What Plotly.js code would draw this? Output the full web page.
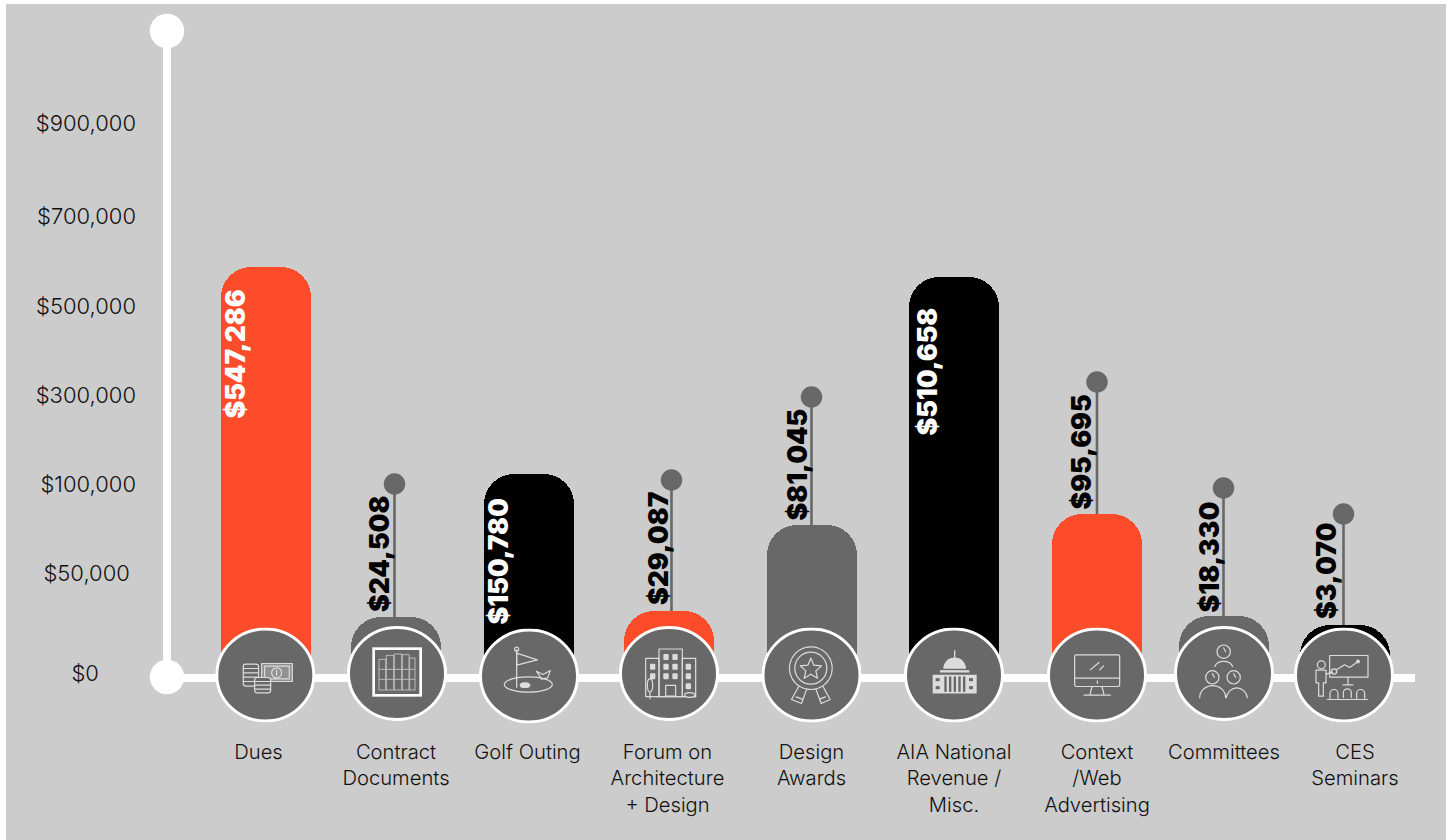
<!DOCTYPE html>
<html>
<head>
<meta charset="utf-8">
<script src="https://cdn.plot.ly/plotly-3.0.1.min.js"></script>
<style>
html,body{margin:0;padding:0;background:#fff;}
#chart{position:absolute;left:6px;top:4px;width:1440px;height:836px;}
</style>
</head>
<body>
<div id="chart"></div>
<script>
// ---------- chart content ----------
const categories = ["Dues","Contract<br>Documents","Golf Outing","Forum on<br>Architecture<br>+ Design","Design<br>Awards","AIA National<br>Revenue /<br>Misc.","Context<br>/Web<br>Advertising","Committees","CES<br>Seminars"];
const revenue = [547286,24508,150780,29087,81045,510658,95695,18330,3070];
// Bars are illustrative in the source: heights are read from the picture, in axis units.
const barHeights = [411,61,204,67,153,401,164,62,53];
const stemTops = [null,194,null,198,281,null,296,190,164];
const barGroup = ["orange","grey","black","orange","grey","black","orange","grey","black"];
const yTickLabels = ["$0","$50,000","$100,000","$300,000","$500,000","$700,000","$900,000"];

// ---------- placement and style (separate from the data) ----------
const yTickSlots = [4.5,104.5,193.5,282.5,371.5,461.5,554.5];
const yTickPad = [6,1,0,0,0,0,0];
const barCenters = [265.5,396,529,669,812,953.5,1097,1224,1345];
const stemCenters = [null,394.5,null,671.5,811.5,null,1097,1223.5,1343.5];
const discCenters = [265.3,397,529,669,811.5,954,1097,1224,1344];
const discLift = [3,4.5,2,4.5,3,3,3,4.5,3];
const labelCenters = [258.5,396,527.5,667.5,811.5,954,1097,1224,1355];
const valueLabelX = [234.5,378.5,497.5,657.5,796.5,926.5,1080.5,1208.5,1325.5];
const valueLabelMid = [354,554.5,562,548.5,465,372,452,557,571.5];
const palette = {orange:"#FC4C2A",grey:"#686868",black:"#000000"};
const valueInk = ["#fff","#000","#fff","#000","#000","#fff","#000","#000","#000"];
const INK = "#dcdcdc";
const BASE_PX = 678;

const s = 'fill="none" stroke="'+INK+'" stroke-width="3.6" stroke-linejoin="round" stroke-linecap="round"';
const icons = [
 // Dues
 `<g ${s}><rect x="84" y="110" width="46" height="66" rx="8"/><path d="M84 123h46M84 136h46M84 149h46M84 162h46"/><rect x="139" y="108" width="92" height="54" fill="${INK}" fill-opacity=".35"/><rect x="148" y="116" width="74" height="38"/><circle cx="184" cy="136" r="15"/><path d="M184 128v16"/><rect x="118" y="150" width="48" height="46" rx="8" fill="#686868"/><path d="M118 162h48M118 173h48M118 185h48"/></g>`,
 // Contract documents
 `<g fill="none"><rect x="80" y="68" width="141" height="140" stroke="#fff" stroke-width="8"/><g stroke="${INK}" stroke-width="3" opacity=".7"><rect x="96" y="100" width="20" height="92"/><rect x="118" y="88" width="22" height="104"/><rect x="142" y="84" width="22" height="108"/><rect x="166" y="86" width="20" height="106"/><rect x="188" y="96" width="16" height="96"/><path d="M96 130h108M96 160h108"/></g></g>`,
 // Golf
 `<g ${s}><path d="M113 64v112"/><circle cx="113" cy="62" r="6"/><path d="M113 74l62 20-62 16z"/><ellipse cx="148" cy="168" rx="72" ry="23"/><ellipse cx="138" cy="170" rx="14" ry="7" fill="${INK}"/><path d="M172 128l20 10 22-12-8 22-18 4z"/></g>`,
 // Forum
 `<g ${s}><rect x="120" y="69" width="70" height="143"/><rect x="80" y="97" width="40" height="115"/><rect x="190" y="97" width="40" height="115"/><path d="M112 212h118"/><ellipse cx="93" cy="178" rx="8" ry="20"/><path d="M93 198v20"/><rect x="140" y="178" width="30" height="32"/><ellipse cx="212" cy="207" rx="15" ry="7" fill="#686868"/><g fill="${INK}" stroke="none"><rect x="133" y="84" width="16" height="18" rx="3"/><rect x="160" y="84" width="16" height="18" rx="3"/><rect x="133" y="113" width="16" height="18" rx="3"/><rect x="160" y="113" width="16" height="18" rx="3"/><rect x="133" y="142" width="16" height="18" rx="3"/><rect x="160" y="142" width="16" height="18" rx="3"/><rect x="93" y="113" width="16" height="18" rx="3"/><rect x="93" y="142" width="16" height="18" rx="3"/><rect x="200" y="113" width="16" height="18" rx="3"/><rect x="200" y="142" width="16" height="18" rx="3"/><rect x="200" y="172" width="16" height="18" rx="3"/></g></g>`,
 // Design awards
 `<g ${s}><circle cx="148" cy="122" r="64" stroke-dasharray="16 3"/><circle cx="148" cy="122" r="48"/><path d="M148 92l9 21 23 2-17 15 5 22-20-12-20 12 5-22-17-15 23-2z"/><path d="M112 176l-22 40 30 12 16-44M184 176l22 40-27 12-16-44"/><path d="M104 208l18 7M192 208l-18 7"/></g>`,
 // AIA national
 `<g fill="${INK}"><path d="M150 68h4v24h-4z"/><path d="M118 124a34 34 0 0 1 68 0z"/><rect x="108" y="128" width="88" height="7"/><path d="M86 142h132v56H86z"/></g><g fill="#686868"><rect x="121" y="147" width="7" height="46"/><rect x="135" y="147" width="7" height="46"/><rect x="149" y="147" width="7" height="46"/><rect x="163" y="147" width="7" height="46"/><rect x="177" y="147" width="7" height="46"/><rect x="95" y="152" width="12" height="9"/><rect x="195" y="152" width="12" height="9"/><rect x="95" y="176" width="12" height="9"/><rect x="195" y="176" width="12" height="9"/></g>`,
 // Context / web
 `<g ${s}><rect x="83" y="82" width="135" height="95" rx="5"/><path d="M83 152h135M151 160v8M130 127l26-22M158 127l12-12"/><path d="M135 177l-6 25M165 177l6 25M111 203h79"/></g>`,
 // Committees
 `<g ${s}><circle cx="149" cy="77" r="20"/><circle cx="115" cy="154" r="20"/><circle cx="179" cy="154" r="20"/><path d="M122 122a28 22 0 0 1 54 0"/><path d="M77 215a39 36 0 0 1 78 0M157 215a32 36 0 0 1 63 0"/><path d="M149 66l6 11M115 143l6 11M179 143l6 11"/></g>`,
 // CES seminars
 `<g ${s}><rect x="107" y="84" width="115" height="65"/><path d="M127 127l25-15 15 8 25-18"/><circle cx="192" cy="102" r="4" fill="${INK}"/><path d="M162 149v23M147 172h30"/><circle cx="82" cy="112" r="12"/><path d="M66 128h30v38h-8v40H74v-40h-8zM96 140l20-6"/><circle cx="120" cy="132" r="8"/><path d="M108 212v-14a12 12 0 0 1 24 0v14M148 210v-14a12 12 0 0 1 24 0v14M188 212v-14a12 12 0 0 1 24 0v14M100 216h120"/></g>`
];

function badge(inner){
  const svg = '<svg xmlns="http://www.w3.org/2000/svg" width="600" height="570" viewBox="0 0 300 285">'+
    '<ellipse cx="150" cy="142.5" rx="145.5" ry="138" fill="#686868" stroke="#fff" stroke-width="9"/>'+inner+'</svg>';
  return "data:image/svg+xml;charset=utf-8,"+encodeURIComponent(svg);
}

// ---------- traces ----------
const bars = {
  type:"bar", x:barCenters, y:barHeights, width:barCenters.map(()=>90),
  marker:{color:barGroup.map(g=>palette[g]), cornerradius:30, line:{width:0}},
  hoverinfo:"skip", showlegend:false
};
const stemX=[], stemY=[], dotX=[], dotY=[];
stemTops.forEach((t,i)=>{
  if(t===null) return;
  stemX.push(stemCenters[i],stemCenters[i],null);
  stemY.push(barHeights[i],t,null);
  dotX.push(stemCenters[i]); dotY.push(t);
});
const stems = {type:"scatter",mode:"lines",x:stemX,y:stemY,line:{color:"#686868",width:2.6},hoverinfo:"skip",showlegend:false};
const dots = {type:"scatter",mode:"markers",x:dotX,y:dotY,marker:{color:"#686868",size:21.5},hoverinfo:"skip",showlegend:false};
const axisV = {type:"scatter",mode:"lines+markers",x:[167,167],y:[1,647],line:{color:"#fff",width:8},marker:{color:"#fff",size:34.5},hoverinfo:"skip",showlegend:false};
const axisH = {type:"scatter",mode:"lines",x:[167,1415],y:[0,0],line:{color:"#fff",width:8},hoverinfo:"skip",showlegend:false};

// ---------- layout ----------
const fmt = v => "$"+v.toLocaleString("en-US");
const annotations = revenue.map((v,i)=>({
  x:valueLabelX[i], y:BASE_PX-valueLabelMid[i], xref:"x", yref:"y",
  text:fmt(v), textangle:-90, showarrow:false, xanchor:"center", yanchor:"middle",
  font:{family:"Inter, Roboto, sans-serif",size:26.5,weight:900,color:valueInk[i]}
}));
const images = icons.map((ic,i)=>({
  source:badge(ic), xref:"x", yref:"y", x:discCenters[i]-50, y:discLift[i]+47.5,
  sizex:100, sizey:95, sizing:"stretch", xanchor:"left", yanchor:"top", layer:"above"
}));
const layout = {
  width:1440, height:836,
  margin:{l:0,r:0,t:0,b:0,pad:0},
  paper_bgcolor:"#CCCCCC", plot_bgcolor:"#CCCCCC",
  showlegend:false, hovermode:false, bargap:0,
  xaxis:{
    range:[6,1446], anchor:"free", position:162/836, showgrid:false, zeroline:false, showline:false,
    tickmode:"array", tickvals:labelCenters, ticktext:categories, tickangle:0, ticks:"",
    ticklabelstandoff:60, tickfont:{family:"Inter, Roboto, sans-serif",size:20.2,weight:300,color:"#111111"}
  },
  yaxis:{
    range:[-162,674], anchor:"free", position:161/1440, showgrid:false, zeroline:false, showline:false,
    tickmode:"array", tickvals:yTickSlots,
    ticktext:yTickLabels.map((t,i)=>t+"\u00A0".repeat(yTickPad[i])), ticks:"",
    ticklabelstandoff:31, tickfont:{family:"Inter, Roboto, sans-serif",size:22,weight:300,color:"#111111"}
  },
  annotations:annotations, images:images
};
Plotly.newPlot("chart",[bars,axisH,axisV,stems,dots],layout,{displayModeBar:false,responsive:false});
</script>
</body>
</html>
